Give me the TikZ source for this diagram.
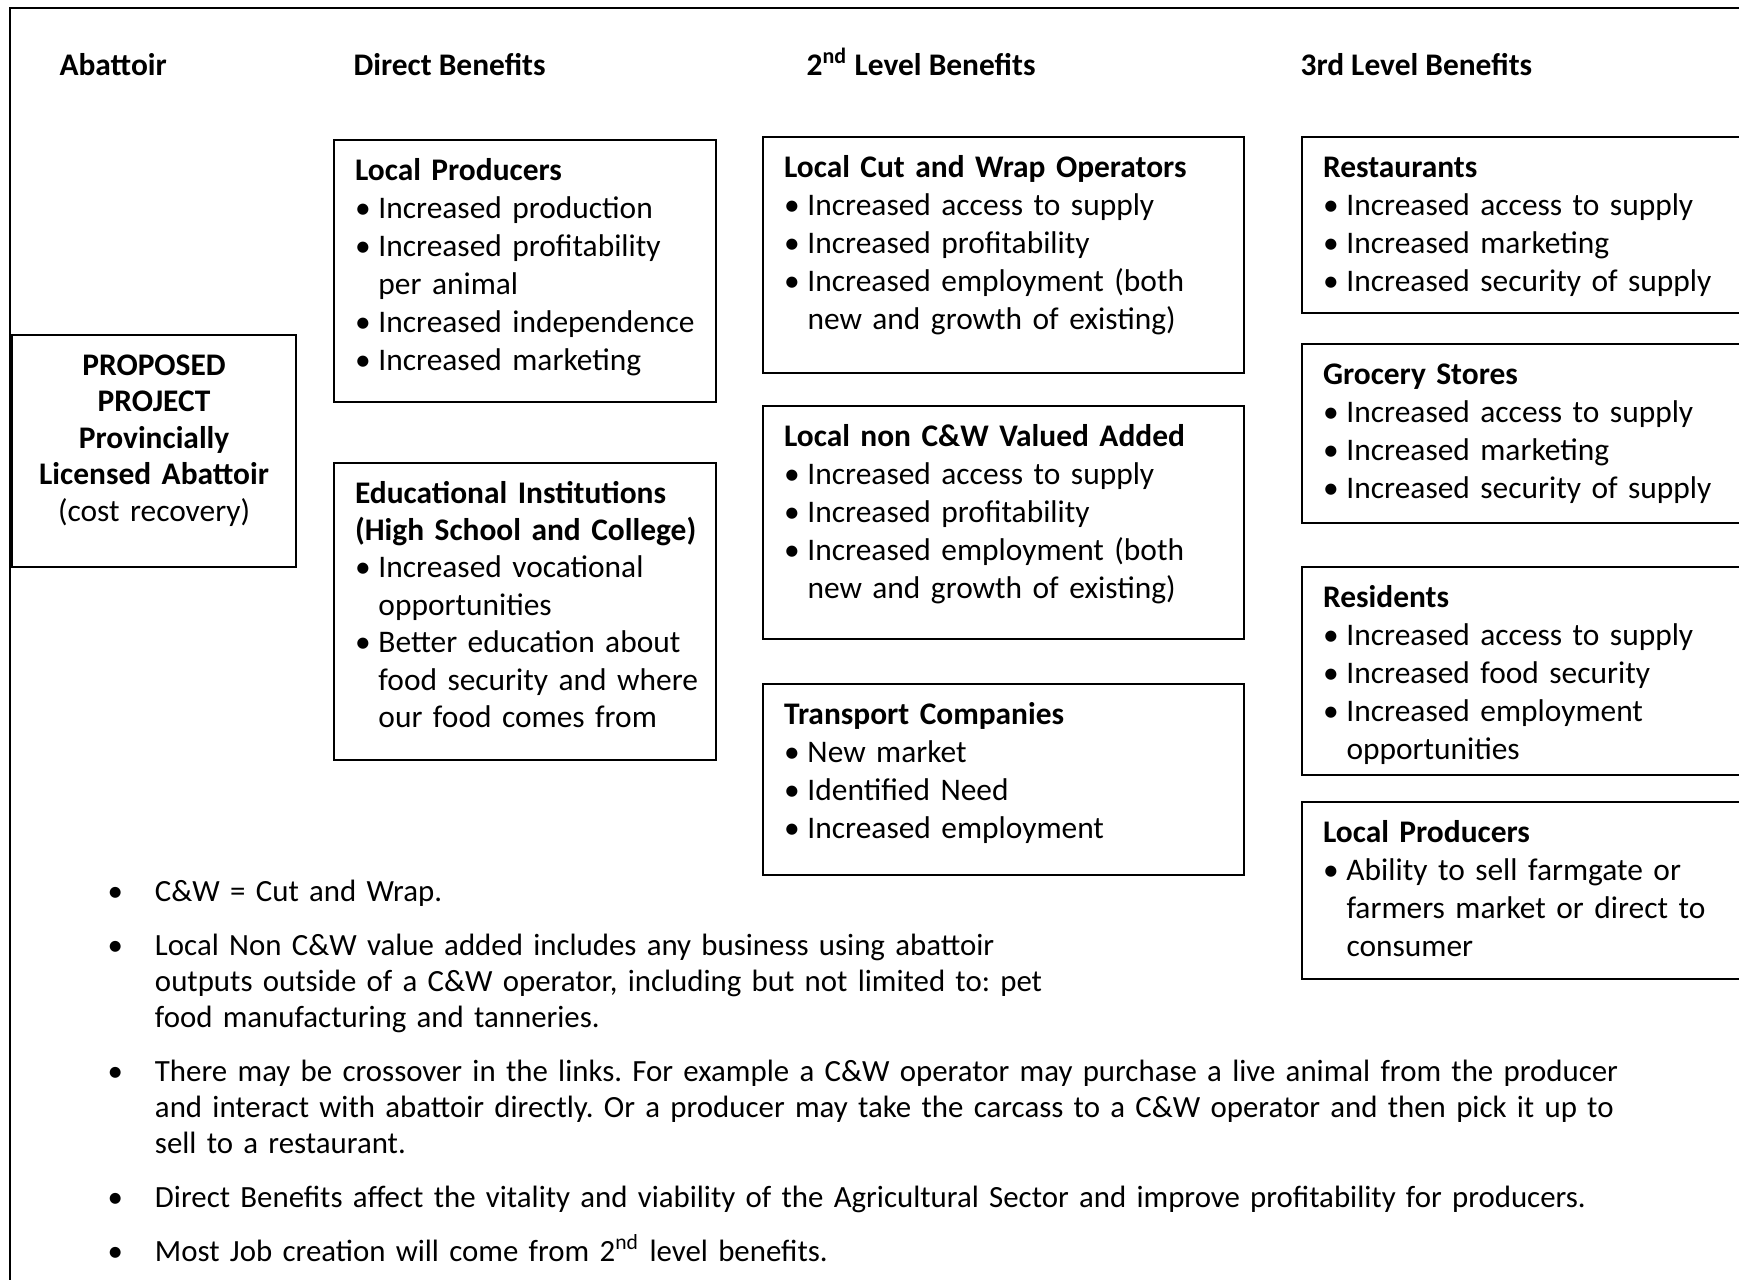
\documentclass[tikz,border=0pt]{standalone}
\usepackage{fontspec}
\setmainfont{Carlito}
\frenchspacing
\tikzset{
  frame/.style={line width=0.7pt},
  heading/.style={anchor=base west, inner sep=0pt, font=\fontsize{11}{13.3}\selectfont\bfseries},
  benefit/.style={draw, line width=0.75pt, anchor=north west, align=left,
    inner xsep=7.35pt, inner ysep=0pt, text height=14pt,
    font=\fontsize{11}{13.3}\selectfont},
  notes/.style={anchor=north west, align=left, inner sep=0pt, text width=560pt,
    text height=10pt, font=\fontsize{10.8}{12.6}\selectfont}
}
% bullet lines inside the boxes
\newcommand{\btitle}[1]{\mbox{\textbf{#1}}}
\newcommand{\bitem}[1]{\mbox{\makebox[8.2pt][l]{\textbullet}#1}}
\newcommand{\bcont}[1]{\mbox{\hspace*{8.2pt}#1}}
% bullet lines of the notes
\newcommand{\nbul}[1]{\mbox{\makebox[16.6pt][l]{\textbullet}#1}}
\newcommand{\ncont}[1]{\mbox{\hspace*{16.6pt}#1}}

\begin{document}
\begin{tikzpicture}[x=0.35pt,y=-0.35pt]
    \useasboundingbox (0,0) rectangle (1739,1279);
    \clip (0,0) rectangle (1739,1279);
    \draw[frame] (1800,8) -- (10,8) -- (10,1300);

    % column headings
    \node[heading] (hAbattoir) at (59,75) {Abattoir};
    \node[heading] (hDirect) at (353,75) {Direct Benefits};
    \node[heading] (hSecond) at (806,75) {2\textsuperscript{nd} Level Benefits};
    \node[heading] (hThird) at (1300,75) {3rd Level Benefits};

    % abattoir
    \node[benefit, align=center, text width=84.7pt, text depth=67.2pt,
      font=\fontsize{11}{12.8}\selectfont] (project) at (11,334)
      {\btitle{PROPOSED}\\ \btitle{PROJECT}\\ \btitle{Provincially}\\
       \btitle{Licensed Abattoir}\\ (cost recovery)};

    % direct benefits
    \node[benefit, text width=119pt, text depth=77.7pt] (localprod) at (333,139)
      {\btitle{Local Producers}\\
       \bitem{Increased production}\\
       \bitem{Increased profitability}\\
       \bcont{per animal}\\
       \bitem{Increased independence}\\
       \bitem{Increased marketing}};
    \node[benefit, text width=119pt, text depth=90pt,
      font=\fontsize{11}{13.1}\selectfont] (eduinst) at (333,462)
      {\btitle{Educational Institutions}\\
       \btitle{(High School and College)}\\
       \bitem{Increased vocational}\\
       \bcont{opportunities}\\
       \bitem{Better education about}\\
       \bcont{food security and where}\\
       \bcont{our food comes from}};

    % 2nd level benefits
    \node[benefit, text width=153.7pt, text depth=68.6pt] (cutwrap) at (762,136)
      {\btitle{Local Cut and Wrap Operators}\\
       \bitem{Increased access to supply}\\
       \bitem{Increased profitability}\\
       \bitem{Increased employment (both}\\
       \bcont{new and growth of existing)}};
    \node[benefit, text width=153.7pt, text depth=67.6pt] (noncw) at (762,405)
      {\btitle{Local non C\&W Valued Added}\\
       \bitem{Increased access to supply}\\
       \bitem{Increased profitability}\\
       \bitem{Increased employment (both}\\
       \bcont{new and growth of existing)}};
    \node[benefit, text width=153.7pt, text depth=52.9pt] (transport) at (762,683)
      {\btitle{Transport Companies}\\
       \bitem{New market}\\
       \bitem{Identified Need}\\
       \bitem{Increased employment}};

    % 3rd level benefits
    \node[benefit, text width=160.3pt, text depth=47.6pt] (restaurants) at (1301,136)
      {\btitle{Restaurants}\\
       \bitem{Increased access to supply}\\
       \bitem{Increased marketing}\\
       \bitem{Increased security of supply}};
    \node[benefit, text width=160.3pt, text depth=48.7pt] (grocery) at (1301,343)
      {\btitle{Grocery Stores}\\
       \bitem{Increased access to supply}\\
       \bitem{Increased marketing}\\
       \bitem{Increased security of supply}};
    \node[benefit, text width=160.3pt, text depth=58.8pt] (residents) at (1301,566)
      {\btitle{Residents}\\
       \bitem{Increased access to supply}\\
       \bitem{Increased food security}\\
       \bitem{Increased employment}\\
       \bcont{opportunities}};
    \node[benefit, text width=160.3pt, text depth=48pt] (farmgate) at (1301,801)
      {\btitle{Local Producers}\\
       \bitem{Ability to sell farmgate or}\\
       \bcont{farmers market or direct to}\\
       \bcont{consumer}};

    % notes
    \node[notes] (notelist) at (107,872)
      {\nbul{C\&W = Cut and Wrap.}\\[6.3pt]
       \nbul{Local Non C\&W value added includes any business using abattoir}\\
       \ncont{outputs outside of a C\&W operator, including but not limited to: pet}\\
       \ncont{food manufacturing and tanneries.}\\[6.3pt]
       \nbul{There may be crossover in the links. For example a C\&W operator may purchase a live animal from the producer}\\
       \ncont{and interact with abattoir directly. Or a producer may take the carcass to a C\&W operator and then pick it up to}\\
       \ncont{sell to a restaurant.}\\[6.3pt]
       \nbul{Direct Benefits affect the vitality and viability of the Agricultural Sector and improve profitability for producers.}\\[6.3pt]
       \nbul{Most Job creation will come from 2\textsuperscript{nd} level benefits.}};
\end{tikzpicture}
\end{document}
